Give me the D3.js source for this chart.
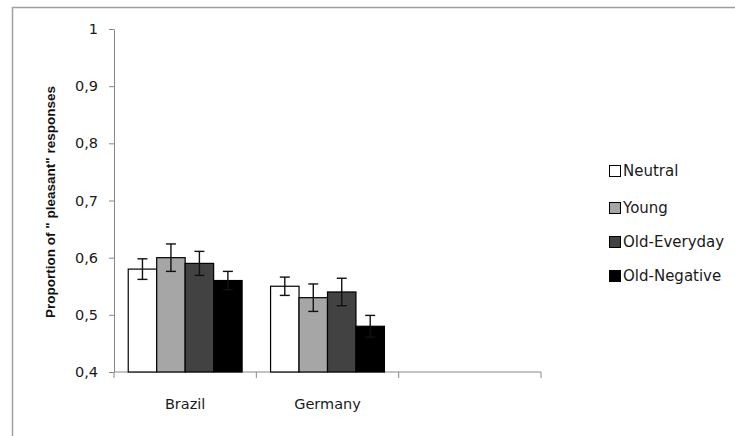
<!DOCTYPE html>
<html><head><meta charset="utf-8">
<script src="https://cdn.jsdelivr.net/npm/d3@7/dist/d3.min.js"></script>
<style>body{margin:0;background:#fff}svg{display:block}</style>
</head><body><svg id="c" width="735" height="436"></svg>
<script>
const categories = ["Brazil", "Germany", ""];
const series = ["Neutral", "Young", "Old-Everyday", "Old-Negative"];
const colors = ["#ffffff", "#a6a6a6", "#424242", "#000000"];
const brazil = [0.58, 0.60, 0.59, 0.56];
const germany = [0.55, 0.53, 0.54, 0.48];
const brazilErr = [0.018, 0.024, 0.021, 0.016];
const germanyErr = [0.016, 0.024, 0.024, 0.019];
const yTicks = [0.4, 0.5, 0.6, 0.7, 0.8, 0.9, 1];
const yLabel = "Proportion of \" pleasant\"  responses";

const values = [brazil, germany];
const errs = [brazilErr, germanyErr];
const svg = d3.select("#c");
const font = "Verdana, 'DejaVu Sans', sans-serif";
const fs = 14.5;

// outer frame
svg.append("rect").attr("x", 12.5).attr("y", 7.5).attr("width", 740).attr("height", 440)
  .attr("fill", "none").attr("stroke", "#a0a0a0").attr("stroke-width", 1.5);

const L = 114, R = 541, T = 29, B = 372;
const x = d3.scaleBand().domain(categories).range([L, R]).paddingInner(0).paddingOuter(0);
const y = d3.scaleLinear().domain([0.4, 1]).range([B, T]);
const inner = d3.scaleBand().domain(series).range([0, x.bandwidth()]).paddingOuter(0.5);

// y axis
const ya = svg.append("g").attr("transform", `translate(${L},0)`)
  .call(d3.axisLeft(y).tickValues(yTicks).tickSize(5).tickSizeOuter(0)
    .tickFormat(d => d === 1 ? "1" : d3.format(".1f")(d).replace(".", ",")));
ya.select(".domain").attr("stroke", "#888");
ya.selectAll(".tick line").attr("stroke", "#888");
ya.selectAll("text").attr("font-family", font).attr("font-size", fs).attr("fill", "#1a1a1a").attr("dx", -8);

// x axis
const xa = svg.append("g").attr("transform", `translate(0,${B})`);
xa.append("line").attr("x1", L).attr("x2", R).attr("y1", 0).attr("y2", 0).attr("stroke", "#888");
const edges = categories.map(c => x(c)).concat([x(categories[categories.length - 1]) + x.bandwidth()]);
xa.selectAll("line.t").data(edges).join("line").attr("class", "t")
  .attr("x1", d => d).attr("x2", d => d).attr("y1", 0).attr("y2", 6).attr("stroke", "#888");
xa.selectAll("text").data(categories).join("text")
  .attr("x", d => x(d) + x.bandwidth() / 2).attr("y", 37)
  .attr("text-anchor", "middle").attr("font-family", font).attr("font-size", fs).attr("fill", "#1a1a1a")
  .text(d => d);

// bars
categories.slice(0, 2).forEach((c, ci) => {
  const g = svg.append("g").attr("transform", `translate(${x(c)},0)`);
  series.forEach((s, si) => {
    const v = values[ci][si], e = errs[ci][si];
    const bx = inner(s), bw = inner.bandwidth();
    g.append("rect").attr("x", bx).attr("y", y(v)).attr("width", bw).attr("height", y(0.4) - y(v))
      .attr("fill", colors[si]).attr("stroke", "#000").attr("stroke-width", 1.2);
    const cx = bx + bw / 2;
    g.append("line").attr("x1", cx).attr("x2", cx).attr("y1", y(v + e)).attr("y2", y(v - e))
      .attr("stroke", "#111").attr("stroke-width", 1.4);
    [v + e, v - e].forEach(t => g.append("line").attr("x1", cx - 5).attr("x2", cx + 5)
      .attr("y1", y(t)).attr("y2", y(t)).attr("stroke", "#111").attr("stroke-width", 1.4));
  });
});

// y label
svg.append("text").attr("transform", "translate(55,202) rotate(-90)")
  .attr("text-anchor", "middle").attr("font-family", "'Liberation Sans Narrow', 'Arial Narrow', 'Liberation Sans', sans-serif")
  .attr("font-weight", "bold").attr("font-size", 13.5).attr("fill", "#111").text(yLabel);

// legend
const lg = svg.append("g");
series.forEach((s, i) => {
  const cy = [171, 208, 242, 276][i];
  lg.append("rect").attr("x", 609.5).attr("y", cy - 5.5).attr("width", 11).attr("height", 11)
    .attr("fill", colors[i]).attr("stroke", "#000").attr("stroke-width", 1);
  lg.append("text").attr("x", 623).attr("y", cy + 5).attr("font-family", font)
    .attr("font-size", 15).attr("fill", "#1a1a1a").text(s);
});
</script></body></html>
